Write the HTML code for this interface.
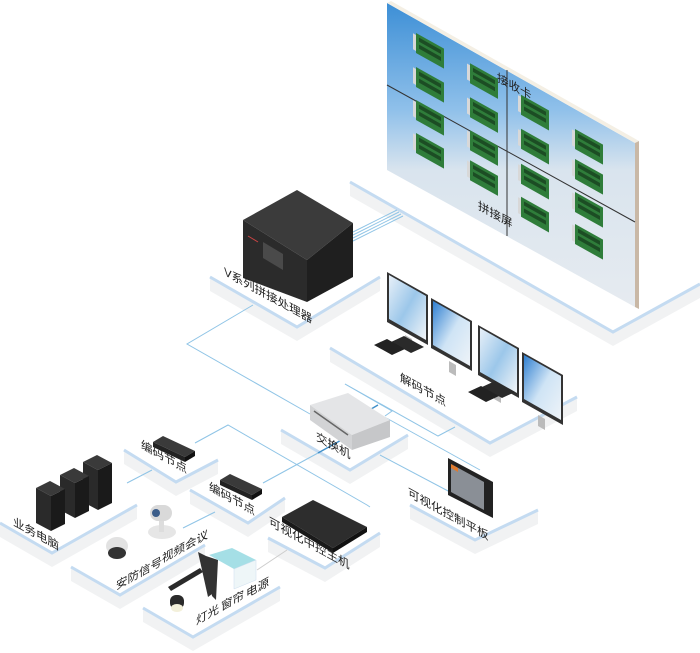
<!DOCTYPE html>
<html><head><meta charset="utf-8"><style>
html,body{margin:0;padding:0;background:#fff;}
svg{display:block;}
text{font-family:"Liberation Sans","Noto Sans CJK SC",sans-serif;font-size:11.5px;fill:#222;}
</style></head><body>
<svg width="700" height="653" viewBox="0 0 700 653" xmlns="http://www.w3.org/2000/svg">
<defs>
<linearGradient id="wall" x1="0" y1="0" x2="0" y2="1">
<stop offset="0" stop-color="#3d8fd6"/><stop offset="0.35" stop-color="#8fc0ea"/><stop offset="0.55" stop-color="#d9e4ee"/><stop offset="1" stop-color="#e6ebf0"/></linearGradient>
<linearGradient id="scr" x1="0" y1="0" x2="1" y2="1">
<stop offset="0" stop-color="#2f7fd0"/><stop offset="0.5" stop-color="#cfe4f5"/><stop offset="1" stop-color="#eef3f8"/></linearGradient>
<linearGradient id="scr2" x1="0" y1="0" x2="1" y2="1">
<stop offset="0" stop-color="#e8f0f8"/><stop offset="0.5" stop-color="#9cc7ea"/><stop offset="1" stop-color="#f2f5f8"/></linearGradient>
<g id="card">
<rect x="0" y="0" width="28" height="20" fill="#2f7d3a"/>
<rect x="3" y="3" width="22" height="4" fill="#1c4d24"/>
<rect x="3" y="10" width="22" height="4" fill="#1c4d24"/>
<rect x="-3" y="2" width="3" height="16" fill="#d8d8d8"/>
</g>
</defs>

<g fill="#f1f2f3" stroke="none">
<polygon points="350,182 613,332 700,284 700,298 613,346 350,196"/>
<polygon points="210,277 297,327 380,277 380,291 297,341 210,291"/>
<polygon points="330,348 490,443 577,397 577,411 490,457 330,362"/>
<polygon points="281,430 350,470 408,435 408,449 350,484 281,444"/>
<polygon points="124,450 176,482 218,460 218,474 176,496 124,464"/>
<polygon points="190,490 248,523 285,498 285,512 248,537 190,504"/>
<polygon points="0,523 52,553 137,505 137,519 52,567 0,537"/>
<polygon points="71,567 120,595 205,545 205,559 120,609 71,581"/>
<polygon points="143,608 193,637 280,587 280,601 193,651 143,622"/>
<polygon points="268,538 325,568 380,533 380,547 325,582 268,552"/>
<polygon points="410,505 475,540 538,510 538,524 475,554 410,519"/>
</g>
<g fill="none" stroke="#c4dbf1" stroke-width="3">
<polyline points="350,182 613,332 700,284"/>
<polyline points="210,277 297,327 380,277"/>
<polyline points="330,348 490,443 577,397"/>
<polyline points="281,430 350,470 408,435"/>
<polyline points="124,450 176,482 218,460"/>
<polyline points="190,490 248,523 285,498"/>
<polyline points="0,523 52,553 137,505"/>
<polyline points="71,567 120,595 205,545"/>
<polyline points="143,608 193,637 280,587"/>
<polyline points="268,538 325,568 380,533"/>
<polyline points="410,505 475,540 538,510"/>
</g>

<g fill="none" stroke="#8fc4e6" stroke-width="1">
<line x1="353" y1="232" x2="397" y2="210"/><line x1="353" y1="235" x2="399" y2="212"/><line x1="353" y1="238" x2="401" y2="214"/><line x1="353" y1="241" x2="403" y2="216"/>
<polyline points="253,305 187,344 310,414"/>
<polyline points="385,416 392,411 345,384"/>
<polyline points="345,384 438,436 455,427"/>
<polyline points="390,420 480,470"/>
<polyline points="195,443 228,425 367,505 370,507"/>
<polyline points="263,483 318,453"/>
<polyline points="127,483 152,470"/>
<polyline points="183,528 215,512"/>
<polyline points="380,455 450,492"/>
<polyline points="345,398 390,420"/>
</g>
<g stroke="#3f8fc9" stroke-width="1.4" fill="none">
<line x1="318" y1="453" x2="345" y2="438"/><line x1="366" y1="412" x2="378" y2="405"/>
</g>
<line x1="257" y1="570" x2="287" y2="550" stroke="#ccc" stroke-width="1"/>

<polygon points="387,3 635,143 635,307 387,170" fill="url(#wall)"/>
<polygon points="387,3 635,143 639,141 391,1" fill="#f4efe4"/>
<polygon points="635,143 639,141 639,309 635,307" fill="#c9b8a6"/>
<line x1="387" y1="85" x2="635" y2="222" stroke="#333" stroke-width="1"/>
<line x1="507" y1="70" x2="507" y2="236" stroke="#333" stroke-width="1"/>
<g transform="matrix(1,0.56,0,1,0,0)">
<use href="#card" x="416" y="-200"/><use href="#card" x="416" y="-166"/><use href="#card" x="470" y="-200"/>
<use href="#card" x="416" y="-133"/><use href="#card" x="470" y="-166"/><use href="#card" x="416" y="-100"/>
<use href="#card" x="470" y="-133"/><use href="#card" x="470" y="-103"/>
<use href="#card" x="521" y="-197"/><use href="#card" x="521" y="-163"/><use href="#card" x="575" y="-193"/>
<use href="#card" x="521" y="-128"/><use href="#card" x="575" y="-163"/><use href="#card" x="521" y="-95"/>
<use href="#card" x="575" y="-130"/><use href="#card" x="575" y="-98"/>
</g>

<polygon points="243,220 297,190 353,223 307,260" fill="#3b3b3b"/>
<polygon points="243,220 307,260 307,302 243,278" fill="#2b2b2b"/>
<polygon points="307,260 353,223 353,277 307,302" fill="#1f1f1f"/>
<polygon points="263,242 283,254 283,270 263,258" fill="#4a4a4a"/>
<line x1="248" y1="236" x2="258" y2="242" stroke="#c44" stroke-width="1"/>

<g>
<polygon points="387,272 428,295 428,345 387,322" fill="#333"/><polygon points="389,275 426,296 426,340 389,319" fill="url(#scr2)"/>
<polygon points="405,335 412,339 412,350 405,346" fill="#bbb"/>
<polygon points="431,298 472,321 472,371 431,348" fill="#333"/><polygon points="433,301 470,322 470,366 433,345" fill="url(#scr)"/>
<polygon points="449,361 456,365 456,376 449,372" fill="#bbb"/>
<polygon points="478,325 519,348 519,398 478,375" fill="#333"/><polygon points="480,328 517,349 517,393 480,372" fill="url(#scr2)"/>
<polygon points="494,388 501,392 501,403 494,399" fill="#bbb"/>
<polygon points="522,352 563,375 563,425 522,402" fill="#333"/><polygon points="524,355 561,376 561,420 524,399" fill="url(#scr)"/>
<polygon points="538,415 545,419 545,430 538,426" fill="#bbb"/>
<polygon points="391,342 404,336 424,347 411,353" fill="#2a2a2a"/>
<polygon points="374,345 387,339 405,349 392,355" fill="#222"/>
<polygon points="482,387 495,381 515,392 502,398" fill="#2a2a2a"/>
<polygon points="468,392 481,386 499,396 486,402" fill="#222"/>
</g>

<polygon points="310,405 348,393 390,420 352,435" fill="#e4e5e7"/>
<polygon points="310,405 352,435 352,450 310,420" fill="#d2d3d5"/>
<polygon points="352,435 390,420 390,437 352,450" fill="#c6c7c9"/>
<line x1="314" y1="411" x2="348" y2="435" stroke="#666" stroke-width="1.5"/>

<polygon points="153,442 163,436 195,451 185,457" fill="#3a3a3a"/>
<polygon points="153,442 185,457 185,462 153,447" fill="#222"/>
<polygon points="185,457 195,451 195,456 185,462" fill="#111"/>
<polygon points="220,480 230,474 262,489 252,495" fill="#3a3a3a"/>
<polygon points="220,480 252,495 252,500 220,485" fill="#222"/>
<polygon points="252,495 262,489 262,494 252,500" fill="#111"/>
<polygon points="282,517 313,500 367,527 333,548" fill="#2d2d2d"/>
<polygon points="282,517 333,548 333,553 282,522" fill="#1a1a1a"/>
<polygon points="333,548 367,527 367,532 333,553" fill="#111"/>

<g>
<polygon points="83,462 97,455 112,463 98,470" fill="#3a3a3a"/><polygon points="83,462 98,470 98,510 83,502" fill="#2a2a2a"/><polygon points="98,470 112,463 112,503 98,510" fill="#1a1a1a"/>
<polygon points="60,475 74,468 89,476 75,483" fill="#3a3a3a"/><polygon points="60,475 75,483 75,518 60,510" fill="#2a2a2a"/><polygon points="75,483 89,476 89,511 75,518" fill="#1a1a1a"/>
<polygon points="36,488 50,481 65,489 51,496" fill="#3a3a3a"/><polygon points="36,488 51,496 51,531 36,523" fill="#2a2a2a"/><polygon points="51,496 65,489 65,524 51,531" fill="#1a1a1a"/>
</g>

<ellipse cx="162" cy="532" rx="14" ry="7" fill="#e6e6e6"/>
<rect x="159" y="518" width="5" height="14" fill="#ddd"/>
<rect x="150" y="505" width="22" height="16" rx="8" fill="#d9d9d9"/>
<circle cx="156" cy="513" r="4" fill="#3b5d8a"/>
<ellipse cx="117" cy="546" rx="11" ry="9" fill="#e2e2e2"/>
<ellipse cx="117" cy="553" rx="9" ry="6" fill="#333"/>
<polygon points="168,587 200,568 203,572 171,591" fill="#2a2a2a"/>
<rect x="170" y="595" width="14" height="14" rx="6" fill="#2a2a2a"/>
<ellipse cx="177" cy="608" rx="6" ry="4" fill="#f3f0da"/>
<path d="M198,552 L206,556 L212,594 L208,597 Z M206,556 L218,560 L216,600 L212,596 Z" fill="#333"/>
<polygon points="209,555 232,548 256,560 234,569" fill="#8fd7e0" opacity="0.8"/>
<polygon points="234,569 256,560 256,580 234,589" fill="#eef6f8" stroke="#cde" stroke-width="0.5"/>
<polygon points="448,458 493,482 493,518 448,495" fill="#222"/>
<polygon points="451,464 484,482 484,510 451,492" fill="#8a8f96"/>
<polygon points="451,464 458,468 458,472 451,468" fill="#e07a2e"/>

<g>
<text transform="matrix(1,0.55,0,1,497,81)">接收卡</text>
<text transform="matrix(1,0.55,0,1,478,209)">拼接屏</text>
<text transform="matrix(1,0.55,0,1,224,275)">V系列拼接处理器</text>
<text transform="matrix(1,0.55,0,1,400,381)">解码节点</text>
<text transform="matrix(1,0.55,0,1,316,440)">交换机</text>
<text transform="matrix(1,0.55,0,1,141,448)">编码节点</text>
<text transform="matrix(1,0.55,0,1,209,490)">编码节点</text>
<text transform="matrix(1,0.55,0,1,13,525)">业务电脑</text>
<text transform="matrix(1,0.55,0,1,269,525)">可视化中控主机</text>
<text transform="matrix(1,0.55,0,1,408,496)">可视化控制平板</text>
<text transform="matrix(1,-0.55,0,1,162,563)">视频会议</text>
<text transform="matrix(1,-0.55,0,1,116,590)">安防信号</text>
<text transform="matrix(1,-0.55,0,1,196,625)">灯光</text>
<text transform="matrix(1,-0.55,0,1,221,611)">窗帘</text>
<text transform="matrix(1,-0.55,0,1,246,598)">电源</text>
</g>
</svg>
</body></html>
